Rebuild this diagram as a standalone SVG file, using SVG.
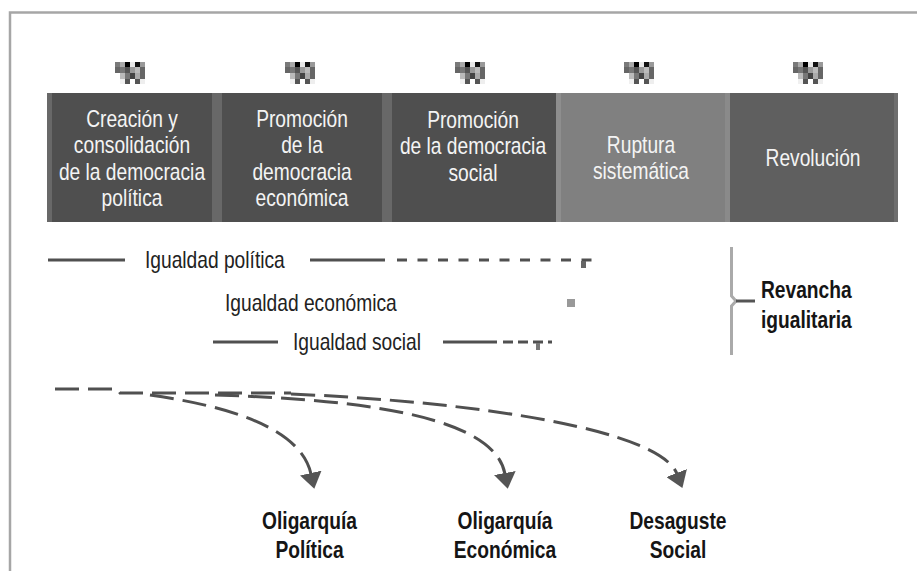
<svg xmlns="http://www.w3.org/2000/svg" width="917" height="571" viewBox="0 0 917 571">
<style>
.t{font-family:"Liberation Sans",Arial,Helvetica,sans-serif;font-size:24px}
.w{fill:#f4f4f4;text-anchor:middle}
.k{fill:#222}
.b{font-weight:bold;fill:#151515}
.m{text-anchor:middle}
.dk{fill:#4f4f4f}
.st{fill:#686868}
.ln{stroke:#505050;stroke-width:3;fill:none}
.dsh{stroke:#505050;stroke-width:3;fill:none;stroke-dasharray:24 9}
</style>
<defs>
<symbol id="blob" viewBox="0 0 30 22" width="30" height="22">
<rect x="0" y="0" width="5" height="5" fill="#7a7a7a"/><rect x="5" y="0" width="5" height="5" fill="#aaa"/><rect x="10" y="0" width="5" height="5" fill="#000"/><rect x="15" y="0" width="5" height="5" fill="#e8e8e8"/><rect x="20" y="0" width="5" height="5" fill="#111"/><rect x="25" y="0" width="5" height="5" fill="#999"/>
<rect x="0" y="5" width="5" height="6" fill="#666"/><rect x="5" y="5" width="5" height="6" fill="#777"/><rect x="10" y="5" width="5" height="6" fill="#555"/><rect x="15" y="5" width="5" height="6" fill="#999"/><rect x="20" y="5" width="5" height="6" fill="#bbb"/><rect x="25" y="5" width="5" height="6" fill="#666"/>
<rect x="5" y="11" width="5" height="6" fill="#bbb"/><rect x="10" y="11" width="5" height="6" fill="#777"/><rect x="15" y="11" width="5" height="6" fill="#444"/><rect x="20" y="11" width="5" height="6" fill="#aaa"/><rect x="25" y="11" width="5" height="6" fill="#666"/>
<rect x="5" y="17" width="5" height="5" fill="#f0f0f0"/><rect x="10" y="17" width="5" height="5" fill="#555"/><rect x="20" y="17" width="5" height="5" fill="#555"/><rect x="25" y="17" width="5" height="5" fill="#eee"/>
</symbol>
<marker id="ah" viewBox="0 0 16 22" markerWidth="16" markerHeight="22" refX="1" refY="11" orient="auto" markerUnits="userSpaceOnUse">
<path d="M0,0 L16,11 L0,22 z" fill="#555"/>
</marker>
</defs>
<rect x="0" y="0" width="917" height="571" fill="#fff"/>
<g id="frame" fill="none" stroke="#a6a6a6" stroke-width="2.5">
<path d="M10 571 V12.5 H917"/>
</g>
<g id="years">
<use href="#blob" x="115" y="62"/>
<use href="#blob" x="285" y="62"/>
<use href="#blob" x="455" y="62"/>
<use href="#blob" x="624" y="62"/>
<use href="#blob" x="793" y="62"/>
</g>
<g id="node-creacion">
<rect x="47" y="93" width="165" height="129" class="dk"/>
<rect x="47" y="93" width="5" height="129" class="st"/>
<text class="t w" transform="translate(132 126.5) scale(0.8 1)"><tspan x="0" y="0">Creación y</tspan><tspan x="0" dy="26.6">consolidación</tspan><tspan x="0" dy="26.6">de la democracia</tspan><tspan x="0" dy="26.6">política</tspan></text>
</g>
<g id="node-promocion-economica">
<rect x="212" y="93" width="170" height="129" class="dk"/>
<rect x="212" y="93" width="10" height="129" class="st"/>
<text class="t w" transform="translate(302 126.5) scale(0.8 1)"><tspan x="0" y="0">Promoción</tspan><tspan x="0" dy="26.6">de la</tspan><tspan x="0" dy="26.6">democracia</tspan><tspan x="0" dy="26.6">económica</tspan></text>
</g>
<g id="node-promocion-social">
<rect x="382" y="93" width="174" height="129" class="dk"/>
<rect x="382" y="93" width="10" height="129" class="st"/>
<text class="t w" transform="translate(473 127.5) scale(0.8 1)"><tspan x="0" y="0">Promoción</tspan><tspan x="0" dy="26.6">de la democracia</tspan><tspan x="0" dy="26.6">social</tspan></text>
</g>
<g id="node-ruptura">
<rect x="556" y="93" width="169" height="129" fill="#808080"/>
<rect x="556" y="93" width="5" height="129" fill="#8e8e8e"/>
<text class="t w" transform="translate(641 152.5) scale(0.8 1)"><tspan x="0" y="0">Ruptura</tspan><tspan x="0" dy="27">sistemática</tspan></text>
</g>
<g id="node-revolucion">
<rect x="725" y="93" width="173" height="129" fill="#5f5f5f"/>
<rect x="725" y="93" width="5" height="129" fill="#8a8a8a"/>
<rect x="894" y="93" width="4" height="129" fill="#6e6e6e"/>
<text class="t w" transform="translate(813 166) scale(0.8 1)">Revolución</text>
</g>
<g id="node-igualdad-politica">
<text class="t k" transform="translate(145 268) scale(0.8 1)">Igualdad política</text>
</g>
<g id="node-igualdad-economica">
<text class="t k" transform="translate(225 311) scale(0.8 1)">Igualdad económica</text>
</g>
<g id="node-igualdad-social">
<text class="t k" transform="translate(293 350) scale(0.8 1)">Igualdad social</text>
</g>
<g id="node-revancha">
<text class="t b" transform="translate(761 298) scale(0.8 1)"><tspan x="0" y="0">Revancha</tspan><tspan x="0" dy="30">igualitaria</tspan></text>
</g>
<g id="node-oligarquia-politica">
<text class="t b m" transform="translate(309.5 529) scale(0.8 1)"><tspan x="0" y="0">Oligarquía</tspan><tspan x="0" dy="29">Política</tspan></text>
</g>
<g id="node-oligarquia-economica">
<text class="t b m" transform="translate(505 529) scale(0.8 1)"><tspan x="0" y="0">Oligarquía</tspan><tspan x="0" dy="29">Económica</tspan></text>
</g>
<g id="node-desaguste-social">
<text class="t b m" transform="translate(678 529) scale(0.8 1)"><tspan x="0" y="0">Desaguste</tspan><tspan x="0" dy="29">Social</tspan></text>
</g>
<g id="connectors">
<path class="ln" d="M48 260 H125"/>
<path class="ln" d="M310 260 H385"/>
<path class="ln" d="M397 260 H592" stroke-dasharray="10 10.5"/>
<rect x="581" y="261" width="5" height="7" fill="#666"/>
<rect x="567" y="299" width="8" height="8" fill="#999"/>
<path class="ln" d="M213 342 H278"/>
<path class="ln" d="M443 342 H497"/>
<path class="ln" d="M503 342 H552" stroke-dasharray="10 5"/>
<rect x="536" y="343" width="4" height="7" fill="#777"/>
<path d="M731.5 247 V296 L736 301 L731.5 306 V355" fill="none" stroke="#aaa" stroke-width="3"/>
<path d="M736 301 H755" fill="none" stroke="#555" stroke-width="3"/>
<path class="dsh" d="M55 389 H117 L120 393 H291"/>
<path class="dsh" d="M150 395 C220 405 300 425 311 474" marker-end="url(#ah)"/>
<path class="dsh" d="M215 395 C380 400 495 420 505 474" marker-end="url(#ah)"/>
<path class="dsh" d="M291 394 C480 402 660 430 677 474" marker-end="url(#ah)"/>
</g>
</svg>
